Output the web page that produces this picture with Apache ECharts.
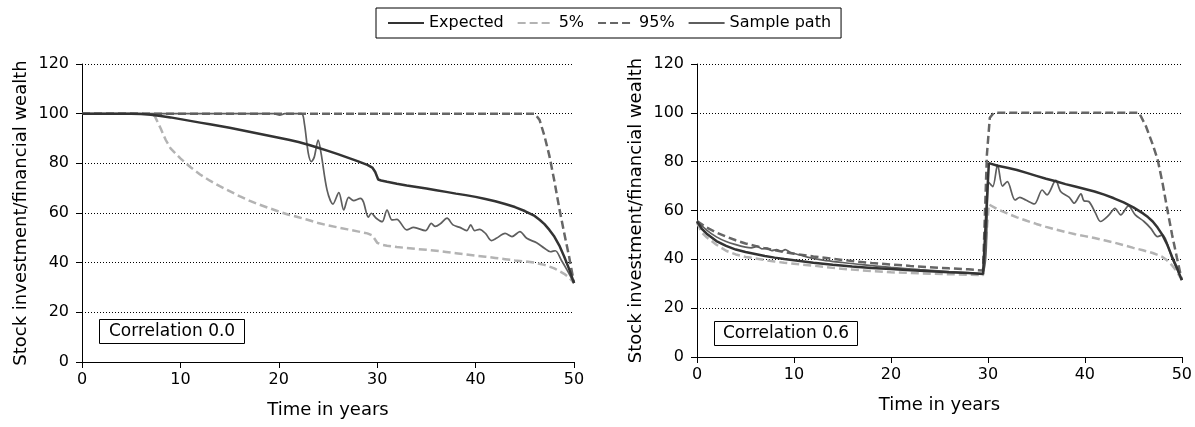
<!DOCTYPE html>
<html>
<head>
<meta charset="utf-8">
<script src="https://cdn.jsdelivr.net/npm/echarts@6/dist/echarts.min.js"></script>
<style>
  html, body { margin: 0; padding: 0; background: #fff; }
  #chart { width: 1195px; height: 427px; }
</style>
</head>
<body>
<div id="chart"></div>
<script>
// x axis ticks / y axis ticks
var xTicks = [0, 10, 20, 30, 40, 50];
var yTicks = [0, 20, 40, 60, 80, 100, 120];
var seriesNames = ['Expected', '5%', '95%', 'Sample path'];

// Correlation 0.0  [time, value]
var leftExpected = [[0,100],[5,100],[6,99.9],[7,99.6],[8,99.1],[9,98.5],[10,97.8],[11,97.1],[12,96.4],[13,95.7],[14,95],[15,94.3],[16,93.5],[17,92.7],[18,91.9],[19,91.1],[20,90.3],[21,89.5],[22,88.6],[23,87.5],[24,86.3],[25,85],[26,83.7],[27,82.3],[28,80.9],[29,79.4],[29.5,78.3],[29.8,76.5],[30.1,73.5],[30.4,73.1],[31,72.6],[32,71.8],[33,71.1],[34,70.5],[35,69.9],[36,69.2],[37,68.5],[38,67.8],[39,67.2],[40,66.5],[41,65.6],[42,64.7],[43,63.6],[44,62.4],[45,60.8],[46,58.8],[46.5,57.3],[47,55.5],[47.5,53.2],[48,50.5],[48.5,47],[49,42.5],[49.5,37.5],[50,31.8]];
var left5 = [[0,100],[7,100],[7.4,99],[8,94],[8.5,89.5],[9,86],[10,82],[11,78.5],[12,75.5],[13,73],[14,70.8],[15,68.8],[16,66.8],[17,65],[18,63.4],[19,62],[20,60.6],[21,59.3],[22,58.3],[23,57.2],[24,56],[25,55],[26,54.2],[27,53.4],[28,52.6],[29,51.8],[29.5,51],[30,48],[30.4,47.3],[31,46.8],[32,46.3],[33,45.9],[34,45.5],[35,45.2],[36,44.8],[37,44.3],[38,43.8],[39,43.3],[40,42.8],[41,42.4],[42,41.9],[43,41.4],[44,40.9],[45,40.5],[46,40],[47,39.1],[48,37.7],[49,35.5],[49.5,34],[50,31.8]];
var left95 = [[0,100],[46,100],[46.5,97.5],[47,91],[47.5,83],[48,73],[48.5,62],[49,52],[49.5,42.5],[50,31.8]];
var leftSample = [[0,100],[19.5,100],[20.1,99.4],[20.6,100],[22.3,100],[22.6,96],[23,84],[23.3,80.7],[23.6,82.5],[24,89.4],[24.3,84],[24.9,69.3],[25.5,63.6],[26.1,68.2],[26.6,61.2],[27.1,66.3],[27.6,65],[28.3,65.9],[28.6,64.5],[29.1,58.3],[29.4,59.9],[29.9,57.9],[30.5,56.5],[31,61.2],[31.5,57.2],[32,57.4],[33,53.2],[33.7,54.2],[34.9,52.9],[35.5,55.8],[35.9,54.6],[36.4,55.6],[37.1,57.9],[37.7,55.2],[38.4,54.2],[39.1,52.9],[39.5,55.2],[39.9,52.9],[40.4,53.4],[41,51.8],[41.6,48.9],[42.1,49.8],[43,51.8],[43.7,50.5],[44.5,52.5],[45.2,49.8],[46.2,48],[47,45.8],[47.6,44.4],[48.1,44.8],[48.7,41.1],[49.3,37],[50,31.8]];

// Correlation 0.6  [time, value]
var rightExpected = [[0,55.5],[0.5,52.5],[1,50.5],[2,47.5],[3,45.5],[4,44],[5,43],[6,42.2],[7,41.4],[8,40.7],[9,40.1],[10,39.6],[12,38.6],[14,37.8],[16,37.1],[18,36.5],[20,36],[22,35.5],[24,35.1],[26,34.7],[28,34.4],[29.5,34],[30.1,79.4],[31,78.3],[32,77.5],[33,76.6],[34,75.4],[35,74.2],[36,73],[37,72],[38,70.8],[39,69.8],[40,68.8],[41,67.8],[42,66.5],[43,65],[44,63.3],[45,61.3],[46,58.8],[46.5,57.3],[47,55.5],[47.5,53],[48,50],[48.5,46],[49,41],[49.5,36.5],[50,31.5]];
var right5 = [[0,55],[0.5,51],[1,49],[2,46],[3,43.5],[4,42],[5,41],[6,40.4],[7,39.7],[8,39.1],[9,38.6],[10,38.2],[12,37.4],[14,36.5],[16,35.8],[18,35.2],[20,34.7],[22,34.4],[24,34.1],[26,33.9],[28,33.7],[29.5,33.5],[30.1,62.5],[31,60.5],[32,58.8],[33,57.2],[34,55.8],[35,54.5],[36,53.3],[37,52.2],[38,51.2],[39,50.3],[40,49.5],[41,48.7],[42,47.8],[43,46.9],[44,45.8],[45,44.7],[46,43.7],[47,42.6],[48,41],[48.5,39.5],[49,37.5],[49.5,35],[50,31.5]];
var right95 = [[0,55.7],[1,53],[2,51],[3,49.3],[4,47.8],[5,46.5],[6,45.5],[7,44.5],[8,43.7],[9,43],[10,42.3],[12,41.2],[14,40.2],[16,39.3],[18,38.5],[20,37.9],[22,37.3],[24,36.8],[26,36.3],[28,35.9],[29.5,35.4],[29.9,83],[30.2,98],[30.6,100],[45.6,100],[46.3,94.5],[47,87],[47.5,81],[48,71.5],[48.5,60.5],[49,50],[49.5,40.5],[50,31.5]];
var rightSample = [[0,55.7],[1,52],[2,49.2],[3,47.3],[4,46],[5,45],[5.6,44.7],[6.2,45.3],[6.7,44.3],[7.2,44.6],[7.7,43.6],[8.2,44],[8.7,43.3],[9.1,44],[9.6,42.9],[10.5,41.9],[11.5,40.8],[13,39.7],[15,38.7],[17,37.8],[20,36.7],[23,35.8],[26,35],[29.4,34.2],[30.1,71.5],[30.5,69.8],[31,78.7],[31.5,70],[32,71.8],[32.8,64.3],[33.3,65.4],[33.9,64.3],[34.8,62.7],[35.6,68.4],[36.1,66.4],[37,72.3],[37.5,67.8],[38.4,65.4],[38.9,63],[39.6,66.8],[39.9,64],[40.4,63.7],[41.1,58.9],[41.6,55.5],[42.5,58.2],[43.1,60.9],[43.7,58.2],[44.5,61.9],[45.2,58.2],[46.1,55.5],[46.8,52.7],[47.5,49.3],[48,50],[49,40.4],[50,31.6]];

var FONT = 'DejaVu Sans';

function makeX(idx) {
  return {
    type: 'value', gridIndex: idx, min: xTicks[0], max: xTicks[xTicks.length - 1], interval: 10,
    name: 'Time in years', nameLocation: 'middle', nameGap: 39,
    nameTextStyle: { fontFamily: FONT, fontSize: 18, color: '#000' },
    axisLine: { lineStyle: { color: '#000', width: 1 } },
    axisTick: { show: true, length: 6, lineStyle: { color: '#000' } },
    axisLabel: { fontFamily: FONT, fontSize: 16, color: '#000', margin: 10 },
    splitLine: { show: false }
  };
}
function makeY(idx) {
  return {
    type: 'value', gridIndex: idx, min: yTicks[0], max: yTicks[yTicks.length - 1], interval: 20,
    name: 'Stock investment/financial wealth', nameLocation: 'middle', nameGap: 52,
    nameTextStyle: { fontFamily: FONT, fontSize: 18, color: '#000' },
    axisLine: { show: true, lineStyle: { color: '#000', width: 1 } },
    axisTick: { show: true, length: 6, lineStyle: { color: '#000' } },
    axisLabel: { fontFamily: FONT, fontSize: 16, color: '#000', margin: 13 },
    splitLine: { show: true, lineStyle: { color: '#000', width: 1, type: [1, 2] } }
  };
}

var styles = {
  'Expected':    { color: '#333333', width: 2.5, type: 'solid', z: 5 },
  '5%':          { color: '#b3b3b3', width: 2.5, type: [8, 4], z: 2 },
  '95%':         { color: '#666666', width: 2.5, type: [8, 4], z: 3 },
  'Sample path': { color: '#5e5e5e', width: 1.7, type: 'solid', z: 4 }
};

function line(name, data, idx) {
  var s = styles[name];
  return {
    name: name, type: 'line', xAxisIndex: idx, yAxisIndex: idx, data: data,
    symbol: 'none', z: s.z, color: s.color,
    smooth: name === 'Sample path' ? 0.3 : false,
    lineStyle: { color: s.color, width: s.width, type: s.type }
  };
}

var boxText = { fontFamily: FONT, fontSize: 17, fontWeight: 'normal', color: '#000' };

var chart = echarts.init(document.getElementById('chart'), null, { renderer: 'canvas' });
chart.setOption({
  animation: false,
  backgroundColor: '#fff',
  legend: {
    data: seriesNames, left: 376, top: 8,
    borderColor: '#000', borderWidth: 1, padding: [7, 10, 7, 11],
    itemWidth: 36, itemHeight: 14, itemGap: 13,
    itemStyle: { color: 'rgba(0,0,0,0)', borderWidth: 0, opacity: 0 },
    textStyle: { fontFamily: FONT, fontSize: 16, color: '#000' }
  },
  title: [
    { text: 'Correlation 0.0', left: 99, top: 319, borderColor: '#000', borderWidth: 1, padding: [4, 10],
      textStyle: boxText },
    { text: 'Correlation 0.6', left: 714, top: 321, borderColor: '#000', borderWidth: 1, padding: [4, 9],
      textStyle: boxText }
  ],
  grid: [
    { left: 82, top: 64, width: 492, height: 298 },
    { left: 697, top: 64, width: 486, height: 293 }
  ],
  xAxis: [makeX(0), makeX(1)],
  yAxis: [makeY(0), makeY(1)],
  series: [
    line('5%', left5, 0), line('95%', left95, 0), line('Sample path', leftSample, 0), line('Expected', leftExpected, 0),
    line('5%', right5, 1), line('95%', right95, 1), line('Sample path', rightSample, 1), line('Expected', rightExpected, 1)
  ]
});
</script>
</body>
</html>
